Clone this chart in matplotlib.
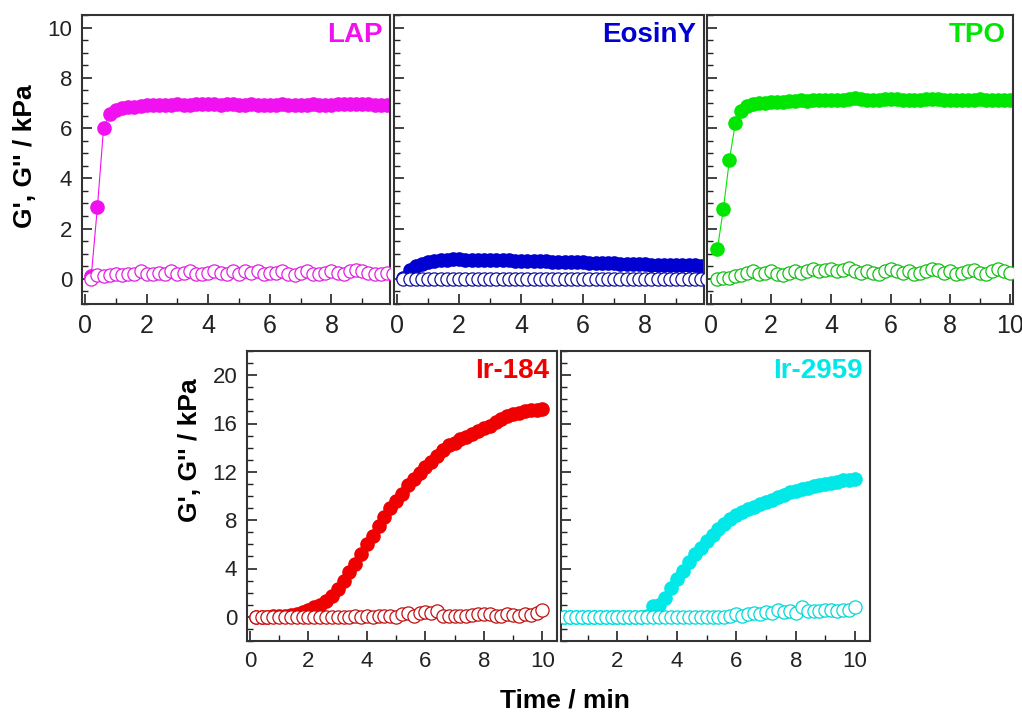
import numpy as np
import matplotlib
matplotlib.use('Agg')
import matplotlib.pyplot as plt
from matplotlib.ticker import MultipleLocator

plt.rcParams['font.family'] = ['Liberation Sans', 'DejaVu Sans']

# sampling times (min)
t = [0.2, 0.4, 0.6, 0.8, 1.0, 1.2, 1.4, 1.6, 1.8, 2.0,
     2.2, 2.4, 2.6, 2.8, 3.0, 3.2, 3.4, 3.6, 3.8, 4.0,
     4.2, 4.4, 4.6, 4.8, 5.0, 5.2, 5.4, 5.6, 5.8, 6.0,
     6.2, 6.4, 6.6, 6.8, 7.0, 7.2, 7.4, 7.6, 7.8, 8.0,
     8.2, 8.4, 8.6, 8.8, 9.0, 9.2, 9.4, 9.6, 9.8, 10.0]

# storage modulus G' (kPa)
lap_g1 = [0.1, 2.85, 6.0, 6.55, 6.7, 6.78, 6.82, 6.85, 6.87, 6.9,
          6.9, 6.92, 6.91, 6.93, 6.94, 6.92, 6.93, 6.95, 6.94, 6.95,
          6.94, 6.93, 6.95, 6.94, 6.92, 6.93, 6.94, 6.91, 6.9, 6.92,
          6.93, 6.94, 6.93, 6.92, 6.91, 6.93, 6.94, 6.93, 6.92, 6.93,
          6.94, 6.95, 6.94, 6.95, 6.96, 6.94, 6.93, 6.92, 6.93, 6.93]
eos_g1 = [0.05, 0.35, 0.5, 0.6, 0.66, 0.7, 0.74, 0.76, 0.78, 0.78,
          0.77, 0.77, 0.76, 0.76, 0.75, 0.75, 0.74, 0.74, 0.73, 0.72,
          0.7, 0.72, 0.71, 0.7, 0.69, 0.68, 0.68, 0.67, 0.66, 0.66,
          0.65, 0.64, 0.63, 0.62, 0.62, 0.61, 0.6, 0.6, 0.59, 0.58,
          0.57, 0.57, 0.56, 0.56, 0.55, 0.55, 0.54, 0.54, 0.53, 0.53]
tpo_g1 = [1.2, 2.8, 4.73, 6.2, 6.67, 6.88, 6.95, 6.98, 7.0, 7.02,
          7.05, 7.04, 7.06, 7.08, 7.1, 7.09, 7.1, 7.12, 7.1, 7.11,
          7.13, 7.12, 7.15, 7.18, 7.14, 7.12, 7.13, 7.1, 7.15, 7.16,
          7.14, 7.12, 7.13, 7.11, 7.12, 7.14, 7.15, 7.16, 7.13, 7.12,
          7.1, 7.11, 7.12, 7.13, 7.15, 7.12, 7.1, 7.11, 7.12, 7.1]
ir184_g1 = [0.0, 0.0, 0.0, 0.05, 0.05, 0.1, 0.15, 0.25, 0.4, 0.6,
            0.8, 1.0, 1.3, 1.7, 2.3, 3.0, 3.7, 4.4, 5.2, 6.0,
            6.7, 7.5, 8.3, 9.0, 9.6, 10.2, 10.9, 11.4, 11.9, 12.4,
            12.8, 13.3, 13.8, 14.2, 14.4, 14.7, 14.9, 15.1, 15.4, 15.6,
            15.8, 16.1, 16.4, 16.6, 16.8, 16.9, 17.0, 17.1, 17.15, 17.2]
ir2959_g1 = [0.0, 0.0, 0.0, 0.0, 0.0, 0.0, 0.0, 0.0, 0.0, 0.0,
             0.0, 0.0, 0.0, 0.0, 0.05, 0.9, 1.0, 1.6, 2.4, 3.1,
             3.8, 4.5, 5.2, 5.7, 6.3, 6.8, 7.3, 7.7, 8.1, 8.4,
             8.7, 8.9, 9.1, 9.3, 9.5, 9.7, 9.9, 10.1, 10.3, 10.4,
             10.6, 10.7, 10.8, 10.9, 11.0, 11.1, 11.2, 11.3, 11.3, 11.4]

# loss modulus G'' (kPa)
lap_g2 = [0.0, 0.15, 0.1, 0.15, 0.2, 0.15, 0.2, 0.2, 0.3, 0.2,
          0.2, 0.25, 0.2, 0.3, 0.2, 0.25, 0.3, 0.2, 0.2, 0.25,
          0.3, 0.25, 0.2, 0.3, 0.2, 0.3, 0.25, 0.3, 0.2, 0.25,
          0.25, 0.3, 0.2, 0.15, 0.25, 0.3, 0.2, 0.2, 0.25, 0.3,
          0.25, 0.2, 0.3, 0.35, 0.3, 0.25, 0.2, 0.2, 0.25, 0.2]
eos_g2 = [0.0, 0.0, 0.0, 0.0, 0.0, 0.0, 0.0, 0.0, 0.0, 0.0,
          0.0, 0.0, 0.0, 0.0, 0.0, 0.0, 0.0, 0.0, 0.0, 0.0,
          0.0, 0.0, 0.0, 0.0, 0.0, 0.0, 0.0, 0.0, 0.0, 0.0,
          0.0, 0.0, 0.0, 0.0, 0.0, 0.0, 0.0, 0.0, 0.0, 0.0,
          0.0, 0.0, 0.0, 0.0, 0.0, 0.0, 0.0, 0.0, 0.0, 0.0]
tpo_g2 = [0.0, 0.05, 0.05, 0.1, 0.15, 0.25, 0.3, 0.2, 0.25, 0.3,
          0.2, 0.15, 0.25, 0.3, 0.25, 0.3, 0.4, 0.3, 0.35, 0.4,
          0.3, 0.35, 0.45, 0.3, 0.25, 0.3, 0.25, 0.2, 0.3, 0.4,
          0.3, 0.25, 0.3, 0.2, 0.25, 0.3, 0.4, 0.35, 0.25, 0.3,
          0.2, 0.25, 0.3, 0.35, 0.25, 0.2, 0.3, 0.4, 0.3, 0.25]
ir184_g2 = [0.0, 0.0, 0.0, 0.0, 0.0, 0.0, 0.0, 0.0, 0.0, 0.0,
            0.0, 0.0, 0.0, 0.0, 0.0, 0.0, 0.0, 0.05, 0.0, 0.05,
            0.0, 0.05, 0.1, 0.05, 0.0, 0.2, 0.3, 0.1, 0.3, 0.4,
            0.35, 0.45, 0.1, 0.05, 0.05, 0.1, 0.1, 0.15, 0.2, 0.25,
            0.2, 0.05, 0.1, 0.25, 0.15, 0.05, 0.2, 0.15, 0.3, 0.55]
ir2959_g2 = [0.0, 0.0, 0.0, 0.0, 0.0, 0.0, 0.0, 0.0, 0.0, 0.0,
             0.0, 0.0, 0.0, 0.0, 0.0, 0.0, 0.0, 0.0, 0.0, 0.0,
             0.0, 0.0, 0.0, 0.0, 0.0, 0.0, 0.0, 0.0, 0.1, 0.2,
             0.1, 0.2, 0.3, 0.25, 0.4, 0.3, 0.6, 0.4, 0.5, 0.3,
             0.85, 0.5, 0.45, 0.5, 0.6, 0.55, 0.45, 0.6, 0.55, 0.85]

names = ['LAP', 'EosinY', 'TPO', 'Ir-184', 'Ir-2959']
g1_all = [lap_g1, eos_g1, tpo_g1, ir184_g1, ir2959_g1]
g2_all = [lap_g2, eos_g2, tpo_g2, ir184_g2, ir2959_g2]
fill_colors = ['#F010F0', '#0000D0', '#00E600', '#F00000', '#00E8E8']
open_colors = ['#E020E0', '#1010A0', '#10C010', '#C01010', '#00D8D8']

W, H = 1022, 713
fig = plt.figure(figsize=(W / 100, H / 100), dpi=100)

# axes boxes in pixels: left, right, top, bottom
boxes = [(82, 390, 15, 304), (394, 704, 15, 304), (707, 1013, 15, 304),
         (247, 557, 351, 641), (561, 870, 351, 641)]
xlims = [(-0.1, 9.9), (-0.1, 9.9), (-0.15, 10.1), (-0.1, 10.5), (0.1, 10.5)]

for i, (l, r, tp, b) in enumerate(boxes):
    ax = fig.add_axes([l / W, 1 - b / H, (r - l) / W, (b - tp) / H])
    ax.plot(t, g1_all[i], '-o', color=fill_colors[i], lw=0.8, ms=9.5,
            mec=fill_colors[i], mfc=fill_colors[i], zorder=2)
    ax.plot(t, g2_all[i], '-o', color=open_colors[i], lw=0.8, ms=9.5,
            mec=open_colors[i], mfc='white', mew=0.9, zorder=3)
    ax.set_xlim(*xlims[i])
    ax.xaxis.set_major_locator(MultipleLocator(2))
    ax.xaxis.set_minor_locator(MultipleLocator(1))
    if i < 3:
        ax.set_ylim(-1, 10.5)
        ax.yaxis.set_major_locator(MultipleLocator(2))
        ax.yaxis.set_minor_locator(MultipleLocator(0.5))
    else:
        ax.set_ylim(-2, 22)
        ax.yaxis.set_major_locator(MultipleLocator(4))
        ax.yaxis.set_minor_locator(MultipleLocator(1))
    ax.tick_params(which='both', direction='in', top=False, right=False,
                   colors='#222222', pad=7)
    ax.tick_params(axis='y', labelsize=16)
    ax.tick_params(axis='x', labelsize=18 if i < 3 else 16)
    ax.tick_params(which='major', length=7, width=1.2)
    ax.tick_params(which='minor', length=4, width=1.0)
    if i in (1, 2, 4):
        ax.tick_params(axis='y', labelleft=False)
    for sp in ax.spines.values():
        sp.set_color('#333333')
        sp.set_linewidth(1.5)
    ax.text(0.975, 0.975, names[i], transform=ax.transAxes, ha='right',
            va='top', fontsize=20, fontweight='bold', color=fill_colors[i])

fig.text(25 / W, 1 - 156 / H, "G', G'' / kPa", rotation=90, ha='center',
         va='center', fontsize=19, fontweight='bold')
fig.text(190 / W, 1 - 450 / H, "G', G'' / kPa", rotation=90, ha='center',
         va='center', fontsize=19, fontweight='bold')
fig.text(565 / W, 1 - 700 / H, 'Time / min', ha='center', va='center',
         fontsize=19, fontweight='bold')

fig.savefig('out.png', dpi=100)
